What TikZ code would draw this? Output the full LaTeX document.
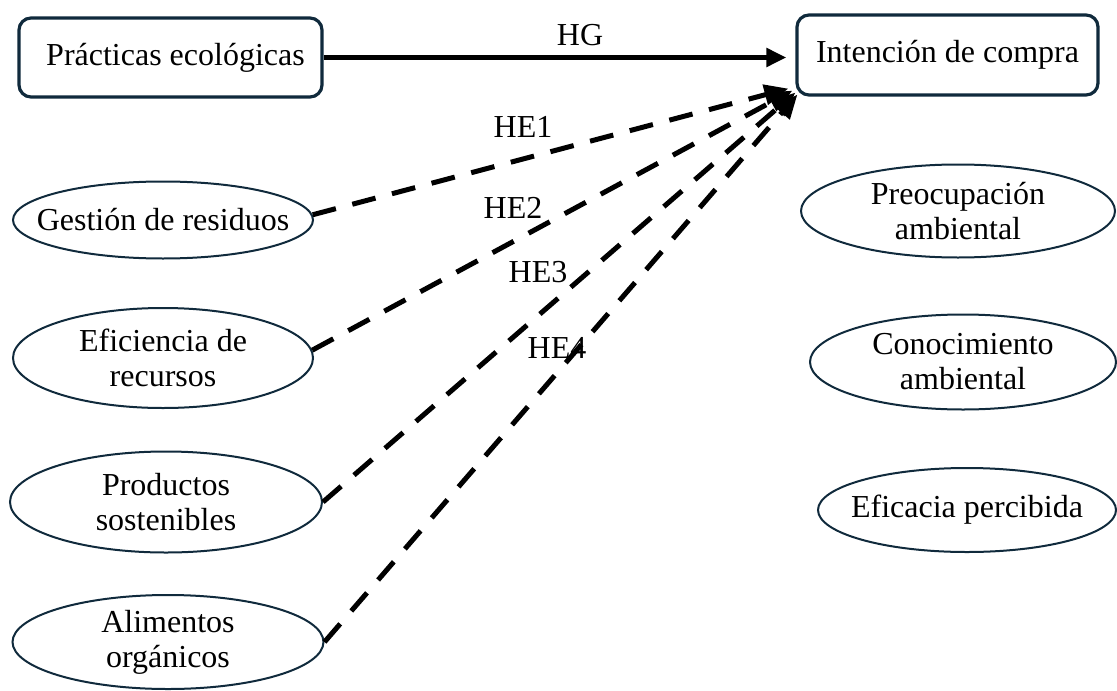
\documentclass[tikz,border=0pt]{standalone}
\usepackage{fontspec}
\setmainfont{Liberation Serif}
\usetikzlibrary{shapes.geometric,arrows.meta}
\definecolor{borde}{HTML}{102A3C}

\begin{document}
\begin{tikzpicture}[x=0.5pt,y=-0.5pt,
		caja/.style={draw=borde, line width=1.6pt, rounded corners=6pt, inner sep=0pt, font=\fontsize{16}{17.5}\selectfont},
		elip/.style={draw=borde, ellipse, line width=1pt, inner sep=0pt},
		texto/.style={inner sep=0pt, align=center, font=\fontsize{16}{17.5}\selectfont},
		etiq/.style={inner sep=0pt, font=\fontsize{16}{17.5}\selectfont},
		flecha/.style={line width=2.5pt, -{Triangle[length=10pt,width=9pt]}},
		hipo/.style={line width=2.5pt, -{Triangle[length=12pt,width=10pt]}, dash pattern=on 12pt off 8.5pt}]
		\useasboundingbox (0,0) rectangle (1117,690);

		\node[caja, minimum width=151.5pt, minimum height=39.5pt] (pe) at (170.5, 57.5) {\hspace{5pt}Prácticas ecológicas};
		\node[caja, minimum width=150.5pt, minimum height=40pt] (ic) at (947.5, 55) {Intención de compra};

		\node[elip, minimum width=150pt, minimum height=38.5pt, label={[texto]center:Gestión de residuos}] (gr) at (163, 220) {};
		\node[elip, minimum width=150pt, minimum height=50pt, label={[texto]center:Eficiencia de\\recursos}] (er) at (163, 358) {};
		\node[elip, minimum width=156pt, minimum height=50.5pt, label={[texto]center:Productos\\sostenibles}] (ps) at (166, 502) {};
		\node[elip, minimum width=155.5pt, minimum height=47pt, label={[texto]center:Alimentos\\orgánicos}] (ao) at (168, 642) {};

		\node[elip, minimum width=157pt, minimum height=46.5pt, label={[texto]center:Preocupación\\ambiental}] (pa) at (958, 211) {};
		\node[elip, minimum width=153pt, minimum height=47.5pt, label={[texto]center:Conocimiento\\ambiental}] (ca) at (963, 362) {};
		\node[elip, minimum width=149pt, minimum height=42pt, label={[texto]center:Eficacia percibida}] (ep) at (967, 510) {};

		\node[etiq] (hg) at (580, 35) {HG};
		\node[etiq] (he1) at (523, 127) {HE1};
		\node[etiq] (he2) at (513, 208) {HE2};
		\node[etiq] (he3) at (538, 272) {HE3};
		\node[etiq] (he4) at (557, 348) {HE4};

		\draw[flecha, color=black, shorten >=4.5pt] (pe.east) -- (pe.east -| ic.west);
		\draw[hipo, color=black] (gr.2) -- ([shift={(-7,-8)}]ic.south west);
		\draw[hipo, color=black] (er.3) -- ([shift={(-3,-6)}]ic.south west);
		\draw[hipo, color=black] (ps.east) -- ([shift={(0,-4)}]ic.south west);
		\draw[hipo, color=black] (ao.east) -- ([shift={(2,-2)}]ic.south west);
	\end{tikzpicture}
\end{document}
